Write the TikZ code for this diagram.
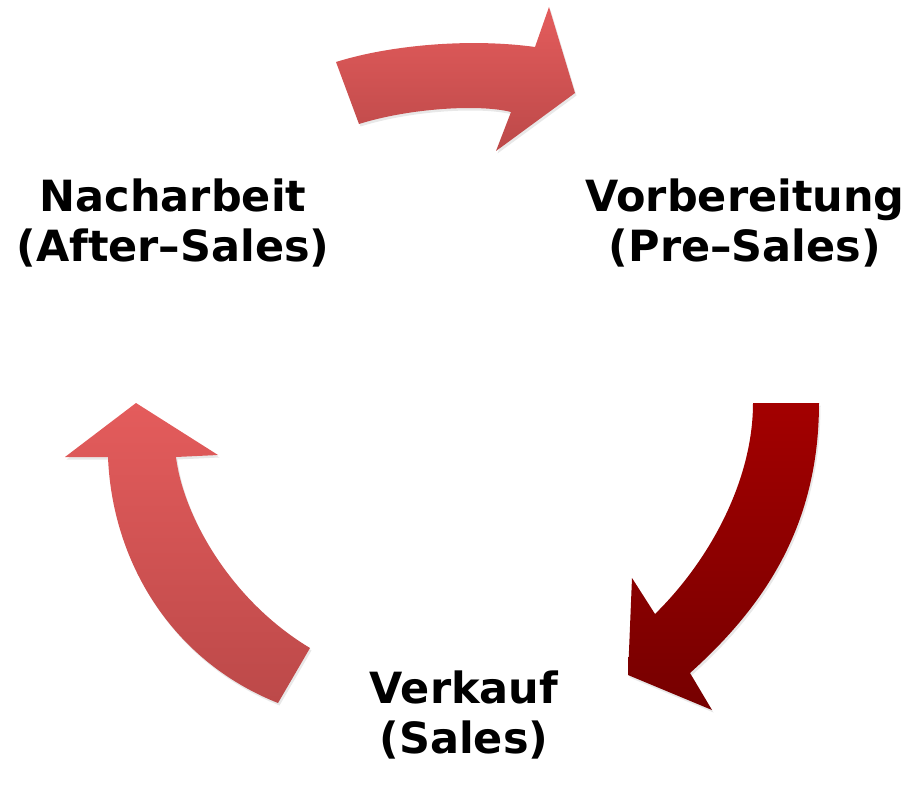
\documentclass[tikz,border=0pt]{standalone}
\usepackage{fontspec}
\setmainfont{DejaVu Sans}
\usetikzlibrary{shadows}
\definecolor{lightTop}{HTML}{E45C5C}
\definecolor{lightBot}{HTML}{BC4949}
\definecolor{darkTop}{HTML}{A30000}
\definecolor{darkBot}{HTML}{760000}
\tikzset{
  lbl/.style={font=\bfseries\fontsize{43}{50}\selectfont, align=center, inner sep=0pt, text=black},
  lightarrow/.style={top color=lightTop, bottom color=lightBot, draw=none,
    drop shadow={shadow xshift=1.5pt, shadow yshift=-2.5pt, opacity=0.18}},
  darkarrow/.style={top color=darkTop, bottom color=darkBot, draw=none,
    drop shadow={shadow xshift=1.5pt, shadow yshift=-2.5pt, opacity=0.18}}
}
\begin{document}
\begin{tikzpicture}[x=1pt,y=-1pt]
\useasboundingbox (0,0) rectangle (913,786);
% top arrow: Nacharbeit -> Vorbereitung
\path[lightarrow] (336,62) .. controls (390,45) and (470,38) .. (535,47)
  -- (549,7) -- (575,93) -- (496,151) -- (511,112)
  .. controls (480,104) and (410,108) .. (359,124) -- cycle;
% right arrow: Vorbereitung -> Verkauf
\path[darkarrow] (753,403) -- (819,403)
  .. controls (819,530) and (760,610) .. (690,673)
  -- (712,710) -- (628,675) -- (632,578) -- (655,614)
  .. controls (710,560) and (753,480) .. (753,403) -- cycle;
% left arrow: Verkauf -> Nacharbeit
\path[lightarrow] (136,403) -- (218,455) -- (176,457)
  .. controls (183,515) and (230,600) .. (310,648)
  -- (278,703)
  .. controls (170,660) and (112,560) .. (108,457)
  -- (65,457) -- cycle;
\node[lbl, anchor=base] (nach) at (173,262) {Nacharbeit\\(After–Sales)};
\node[lbl, anchor=base] (vorb) at (745,262) {Vorbereitung\\(Pre–Sales)};
\node[lbl, anchor=base] (verk) at (464,753) {Verkauf\\(Sales)};
\end{tikzpicture}
\end{document}
